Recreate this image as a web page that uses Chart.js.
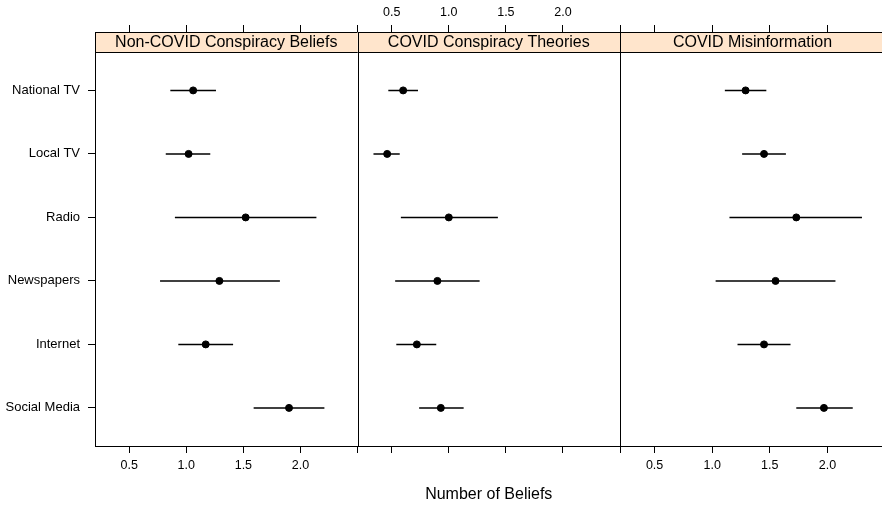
<!DOCTYPE html>
<html lang="en">
<head>
<meta charset="UTF-8">
<title>Number of Beliefs by News Source</title>
<script src="https://cdn.jsdelivr.net/npm/chart.js"></script>
<style>
  body { margin: 0; background: #fff; overflow: hidden; }
  #wrap { position: relative; width: 882px; height: 505px; overflow: hidden; }
  #wrap canvas { position: absolute; left: 0; top: 0; }
</style>
</head>
<body>
<div id="wrap">
  <canvas id="p1" width="882" height="505"></canvas>
  <canvas id="p2" width="882" height="505"></canvas>
  <!-- last panel runs past the right edge, as in the original -->
  <canvas id="p3" width="890" height="505"></canvas>
</div>
<script>
const sources = ['National TV', 'Local TV', 'Radio', 'Newspapers', 'Internet', 'Social Media'];
const panelTitles = ['Non-COVID Conspiracy Beliefs', 'COVID Conspiracy Theories', 'COVID Misinformation'];
const xTicks = [0.5, 1.0, 1.5, 2.0, 2.5];
const xTickLabels = ['0.5', '1.0', '1.5', '2.0', ''];

// estimate and interval ends per panel
const nonCovidMean = [1.06, 1.02, 1.52, 1.29, 1.17, 1.90];
const nonCovidLow  = [0.86, 0.82, 0.90, 0.77, 0.93, 1.59];
const nonCovidHigh = [1.26, 1.21, 2.14, 1.82, 1.41, 2.21];

const covidConspMean = [0.60, 0.46, 1.00, 0.90, 0.72, 0.93];
const covidConspLow  = [0.47, 0.34, 0.58, 0.53, 0.54, 0.74];
const covidConspHigh = [0.73, 0.57, 1.43, 1.27, 0.89, 1.13];

const covidMisMean = [1.29, 1.45, 1.73, 1.55, 1.45, 1.97];
const covidMisLow  = [1.11, 1.26, 1.15, 1.03, 1.22, 1.73];
const covidMisHigh = [1.47, 1.64, 2.30, 2.07, 1.68, 2.22];

const FONT = "'Liberation Sans', Arial, sans-serif";

// panel box + strip label
const panelFrame = {
  id: 'panelFrame',
  beforeDatasetsDraw(chart, args, opts) {
    const a = chart.chartArea;
    const c = chart.ctx;
    c.save();
    c.fillStyle = '#ffe5cc';
    c.fillRect(a.left, a.top, a.right - a.left, 20);
    c.strokeStyle = '#000';
    c.lineWidth = 1;
    c.beginPath();
    c.moveTo(a.left, a.top + 20.5);
    c.lineTo(a.right, a.top + 20.5);
    c.stroke();
    c.strokeRect(Math.round(a.left) + 0.5, Math.round(a.top) + 0.5,
                 Math.round(a.right) - Math.round(a.left), Math.round(a.bottom) - Math.round(a.top));
    c.fillStyle = '#000';
    c.font = '16px ' + FONT;
    c.textAlign = 'center';
    c.textBaseline = 'middle';
    c.fillText(opts.text, (a.left + a.right) / 2, a.top + 11);
    c.restore();
  }
};

function xAxis(pos, showLabels, withTitle) {
  return {
    type: 'linear',
    position: pos,
    min: 0.2,
    max: 2.5,
    afterBuildTicks: s => { s.ticks = xTicks.map(v => ({ value: v })); },
    afterFit: s => {
      s.height = pos === 'top' ? 32 : 59;
      s.paddingLeft = 0;
      s.paddingRight = 0;
    },
    border: { display: false },
    grid: { drawOnChartArea: false, drawTicks: true, tickLength: 7, color: '#000', tickColor: '#000' },
    ticks: {
      display: showLabels,
      padding: 5,
      color: '#000',
      maxRotation: 0,
      font: { family: FONT, size: 12.5 },
      callback: v => xTickLabels[xTicks.indexOf(v)]
    },
    title: {
      display: withTitle,
      text: 'Number of Beliefs',
      color: '#000',
      font: { family: FONT, size: 16 },
      padding: { top: 0, bottom: 1 }
    }
  };
}

function makePanel(id, idx, mean, low, high, pad) {
  const bars = sources.map((s, i) => ({
    type: 'line',
    data: [{ x: low[i], y: i + 1 }, { x: high[i], y: i + 1 }],
    borderColor: '#000',
    borderWidth: 1.5,
    pointRadius: 0,
    showLine: true
  }));
  const dots = {
    type: 'scatter',
    data: mean.map((m, i) => ({ x: m, y: i + 1 })),
    backgroundColor: '#000',
    borderColor: '#000',
    pointRadius: 3.5
  };
  return new Chart(document.getElementById(id), {
    type: 'scatter',
    data: { datasets: bars.concat([dots]) },
    options: {
      responsive: false,
      animation: false,
      layout: { padding: pad },
      plugins: {
        legend: { display: false },
        tooltip: { enabled: false },
        panelFrame: { text: panelTitles[idx] }
      },
      scales: {
        x: xAxis('bottom', idx !== 1, idx === 1),
        x2: xAxis('top', idx === 1, false),
        y: {
          type: 'linear',
          reverse: true,
          min: 0.08,
          max: 6.6,
          display: idx === 0,
          afterBuildTicks: s => { s.ticks = sources.map((_, i) => ({ value: i + 1 })); },
          afterFit: s => { s.width = idx === 0 ? 95 : 0; },
          border: { display: false },
          grid: { drawOnChartArea: false, drawTicks: true, tickLength: 7, color: '#000', tickColor: '#000' },
          ticks: {
            padding: 8,
            color: '#000',
            font: { family: FONT, size: 13 },
            callback: v => sources[v - 1]
          }
        }
      }
    },
    plugins: [panelFrame]
  });
}

makePanel('p1', 0, nonCovidMean, nonCovidLow, nonCovidHigh, { left: 0, right: 524.5, top: 0, bottom: 0 });
makePanel('p2', 1, covidConspMean, covidConspLow, covidConspHigh, { left: 357.5, right: 262, top: 0, bottom: 0 });
makePanel('p3', 2, covidMisMean, covidMisLow, covidMisHigh, { left: 620, right: 0, top: 0, bottom: 0 });
</script>
</body>
</html>
